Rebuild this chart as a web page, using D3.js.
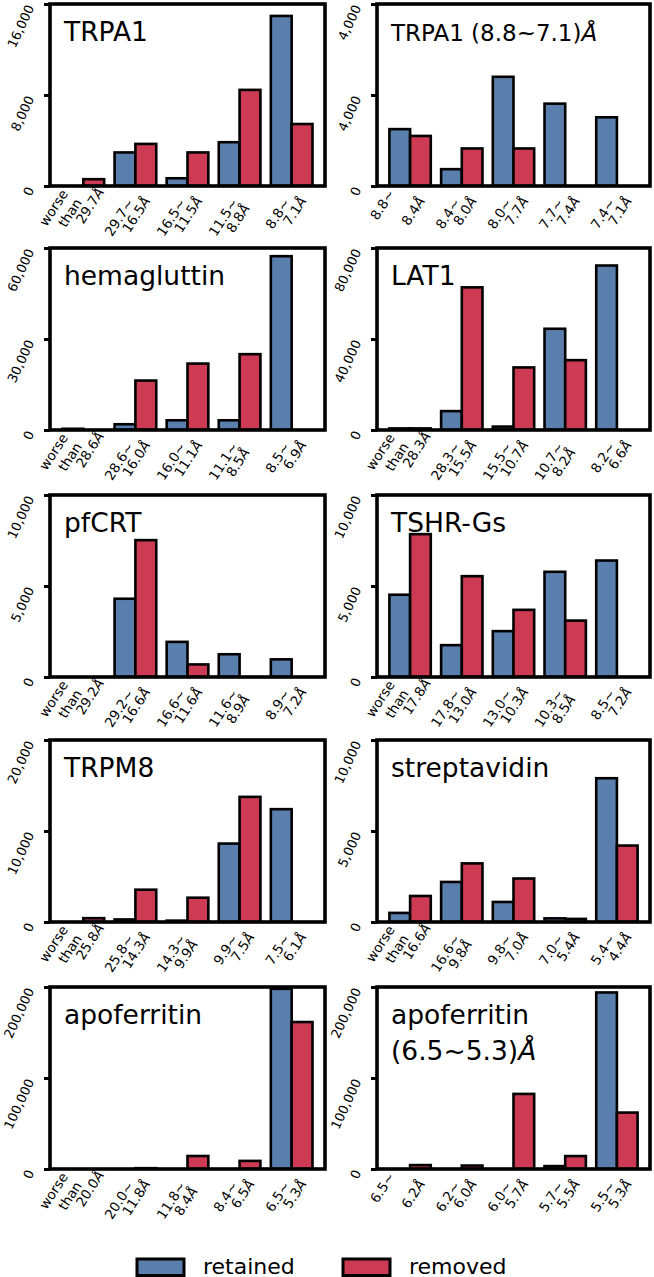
<!DOCTYPE html>
<html><head><meta charset="utf-8">
<script src="https://cdn.jsdelivr.net/npm/d3@7"></script>
<style>html,body{margin:0;padding:0;background:#fff;}svg{display:block;font-family:"DejaVu Sans",sans-serif;}</style>
</head><body>
<svg id="chart" width="654" height="1277"></svg>
<script>
// ---------- data ----------
const seriesNames = ["retained", "removed"];

const trpa1Categories = [["worse","than","29.7Å"],["29.7~","16.5Å"],["16.5~","11.5Å"],["11.5~","8.8Å"],["8.8~","7.1Å"]];
const trpa1Retained = [0, 2950, 680, 3850, 14950];
const trpa1Removed  = [600, 3700, 2950, 8450, 5450];
const trpa1Ticks = [0, 8000, 16000];
const trpa1TickLabels = ["0", "8,000", "16,000"];

const trpa1SubCategories = [["8.8~","","8.4Å"],["8.4~","8.0Å"],["8.0~","7.7Å"],["7.7~","7.4Å"],["7.4~","7.1Å"]];
const trpa1SubRetained = [2500, 740, 4800, 3620, 3020];
const trpa1SubRemoved  = [2200, 1650, 1650, 0, 0];
const trpa1SubTicks = [0, 4000, 8000];
const trpa1SubTickLabels = ["0", "4,000", "4,000"];

const hemaCategories = [["worse","than","28.6Å"],["28.6~","16.0Å"],["16.0~","11.1Å"],["11.1~","8.5Å"],["8.5~","6.9Å"]];
const hemaRetained = [400, 1900, 3200, 3200, 57300];
const hemaRemoved  = [0, 16300, 21900, 25000, 0];
const hemaTicks = [0, 30000, 60000];
const hemaTickLabels = ["0", "30,000", "60,000"];

const lat1Categories = [["worse","than","28.3Å"],["28.3~","15.5Å"],["15.5~","10.7Å"],["10.7~","8.2Å"],["8.2~","6.6Å"]];
const lat1Retained = [700, 8300, 1500, 44500, 72300];
const lat1Removed  = [700, 62700, 27500, 30700, 0];
const lat1Ticks = [0, 40000, 80000];
const lat1TickLabels = ["0", "40,000", "80,000"];

const pfcrtCategories = [["worse","than","29.2Å"],["29.2~","16.6Å"],["16.6~","11.6Å"],["11.6~","8.9Å"],["8.9~","7.2Å"]];
const pfcrtRetained = [0, 4300, 1930, 1250, 970];
const pfcrtRemoved  = [0, 7520, 690, 0, 0];
const pfcrtTicks = [0, 5000, 10000];
const pfcrtTickLabels = ["0", "5,000", "10,000"];

const tshrCategories = [["worse","than","17.8Å"],["17.8~","13.0Å"],["13.0~","10.3Å"],["10.3~","8.5Å"],["8.5~","7.2Å"]];
const tshrRetained = [4520, 1750, 2520, 5780, 6400];
const tshrRemoved  = [7850, 5540, 3690, 3100, 0];
const tshrTicks = [0, 5000, 10000];
const tshrTickLabels = ["0", "5,000", "10,000"];

const trpm8Categories = [["worse","than","25.8Å"],["25.8~","14.3Å"],["14.3~","9.9Å"],["9.9~","7.5Å"],["7.5~","6.1Å"]];
const trpm8Retained = [0, 280, 150, 8620, 12400];
const trpm8Removed  = [420, 3550, 2670, 13750, 0];
const trpm8Ticks = [0, 10000, 20000];
const trpm8TickLabels = ["0", "10,000", "20,000"];

const streptCategories = [["worse","than","16.6Å"],["16.6~","9.8Å"],["9.8~","7.0Å"],["7.0~","5.4Å"],["5.4~","4.4Å"]];
const streptRetained = [500, 2200, 1100, 200, 7900];
const streptRemoved  = [1430, 3220, 2390, 170, 4200];
const streptTicks = [0, 5000, 10000];
const streptTickLabels = ["0", "5,000", "10,000"];

const apoCategories = [["worse","than","20.0Å"],["20.0~","11.8Å"],["11.8~","8.4Å"],["8.4~","6.5Å"],["6.5~","5.3Å"]];
const apoRetained = [0, 0, 0, 0, 198000];
const apoRemoved  = [0, 900, 14300, 8900, 161500];
const apoTicks = [0, 100000, 200000];
const apoTickLabels = ["0", "100,000", "200,000"];

const apoSubCategories = [["6.5~","","6.2Å"],["6.2~","6.0Å"],["6.0~","5.7Å"],["5.7~","5.5Å"],["5.5~","5.3Å"]];
const apoSubRetained = [0, 0, 0, 3200, 194000];
const apoSubRemoved  = [4300, 3800, 82500, 14200, 62000];
const apoSubTicks = [0, 100000, 200000];
const apoSubTickLabels = ["0", "100,000", "200,000"];

const panelTitles = [["TRPA1"], ["TRPA1 (8.8~7.1)Å"], ["hemagluttin"], ["LAT1"], ["pfCRT"], ["TSHR-Gs"],
                     ["TRPM8"], ["streptavidin"], ["apoferritin"], ["apoferritin", "(6.5~5.3)Å"]];

// ---------- build panels ----------
const panels = [
  {cats: trpa1Categories, ret: trpa1Retained, rem: trpa1Removed, ticks: trpa1Ticks, tl: trpa1TickLabels},
  {cats: trpa1SubCategories, ret: trpa1SubRetained, rem: trpa1SubRemoved, ticks: trpa1SubTicks, tl: trpa1SubTickLabels, small: true},
  {cats: hemaCategories, ret: hemaRetained, rem: hemaRemoved, ticks: hemaTicks, tl: hemaTickLabels},
  {cats: lat1Categories, ret: lat1Retained, rem: lat1Removed, ticks: lat1Ticks, tl: lat1TickLabels},
  {cats: pfcrtCategories, ret: pfcrtRetained, rem: pfcrtRemoved, ticks: pfcrtTicks, tl: pfcrtTickLabels},
  {cats: tshrCategories, ret: tshrRetained, rem: tshrRemoved, ticks: tshrTicks, tl: tshrTickLabels},
  {cats: trpm8Categories, ret: trpm8Retained, rem: trpm8Removed, ticks: trpm8Ticks, tl: trpm8TickLabels},
  {cats: streptCategories, ret: streptRetained, rem: streptRemoved, ticks: streptTicks, tl: streptTickLabels},
  {cats: apoCategories, ret: apoRetained, rem: apoRemoved, ticks: apoTicks, tl: apoTickLabels},
  {cats: apoSubCategories, ret: apoSubRetained, rem: apoSubRemoved, ticks: apoSubTicks, tl: apoSubTickLabels}
];
panels.forEach((p, i) => p.title = panelTitles[i]);

const colors = {retained: "#5b7fad", removed: "#cc3a53"};
const svg = d3.select("#chart");
const colLeft = [50, 377], colRight = [325, 650];
const rowTop = [4, 248, 495, 740, 987];
const panelH = 182;
const xAngle = 57, yAngle = 65;
const xFont = 13.5, yFont = 13;
const lineH = 16.5;              // spacing of plain label lines
const aPerp = 12.8, aAlong = 12.5; // placement of the Å line relative to the previous line's start

function addRich(sel, str) {
  const parts = str.split("Å");
  parts.forEach((part, k) => {
    if (part.length) sel.append("tspan").text(part);
    if (k < parts.length - 1) sel.append("tspan").attr("font-style", "italic").text("Å");
  });
}

panels.forEach((p, i) => {
  const col = i % 2, row = Math.floor(i / 2);
  const x0 = colLeft[col], x1 = colRight[col];
  const top = rowTop[row], bottom = top + panelH;
  const g = svg.append("g");
  const x = d3.scaleLinear().domain([-0.64, 4.64]).range([x0, x1]);
  const y = d3.scaleLinear().domain([0, p.ticks[p.ticks.length - 1]]).range([bottom, top]);
  const clipId = "clip" + i;
  g.append("clipPath").attr("id", clipId).append("rect")
    .attr("x", x0).attr("y", top).attr("width", x1 - x0).attr("height", bottom - top);

  const bars = [];
  p.cats.forEach((c, j) => {
    bars.push({s: "retained", j, v: p.ret[j], off: -0.4});
    bars.push({s: "removed", j, v: p.rem[j], off: 0});
  });
  g.append("g").attr("clip-path", `url(#${clipId})`)
    .selectAll("rect").data(bars.filter(b => b.v > 0)).join("rect")
    .attr("x", b => x(b.j + b.off)).attr("width", b => x(b.j + b.off + 0.4) - x(b.j + b.off))
    .attr("y", b => y(b.v)).attr("height", b => y(0) - y(b.v))
    .attr("fill", b => colors[b.s]).attr("stroke", "#000").attr("stroke-width", 2.6);

  g.append("rect").attr("x", x0).attr("y", top).attr("width", x1 - x0).attr("height", bottom - top)
    .attr("fill", "none").attr("stroke", "#000").attr("stroke-width", 3.6);

  const yAxis = d3.axisLeft(y).tickValues(p.ticks).tickSize(6).tickFormat((d, k) => p.tl[k]);
  const ya = g.append("g").attr("transform", `translate(${x0},0)`).call(yAxis);
  ya.select(".domain").remove();
  ya.selectAll(".tick line").attr("stroke", "#000").attr("stroke-width", 3);
  ya.selectAll(".tick text")
    .attr("x", null).attr("dy", null)
    .attr("font-size", yFont).attr("font-family", "DejaVu Sans").attr("fill", "#000")
    .attr("text-anchor", "end")
    .attr("transform", `translate(-15.5,3) rotate(${-yAngle})`);

  // x labels
  p.cats.forEach((lines, j) => {
    const cx = x(j);
    const lg = g.append("g").attr("font-size", xFont).attr("fill", "#000")
      .attr("transform", `translate(${cx - 1},${bottom + 16.5}) rotate(${-xAngle})`);
    const plain = lines.filter(l => !l.includes("Å"));
    const aLine = lines.find(l => l.includes("Å"));
    let prevStart = 0, prevY = 0, lastW = 0;
    plain.forEach((ln, k) => {
      const yy = (k - (plain.length - 1)) * lineH;
      const t = lg.append("text").attr("x", 0).attr("y", yy).attr("text-anchor", "end");
      addRich(t, ln);
      const w = ln.length ? t.node().getComputedTextLength() : lastW;
      lastW = w;
      prevStart = -w; prevY = yy;
    });
    if (aLine) {
      const t = lg.append("text").attr("x", prevStart + aAlong).attr("y", prevY + aPerp).attr("text-anchor", "start");
      addRich(t, aLine);
    }
  });

  const tsize = p.small ? 23 : 26.5;
  p.title.forEach((ln, k) => {
    const t = g.append("text").attr("x", x0 + 14).attr("y", top + 36.5 + k * 36.7)
      .attr("font-size", tsize).attr("fill", "#000");
    addRich(t, ln);
  });
});

const legendItems = [{name: "retained", x: 137}, {name: "removed", x: 343}];
const lgd = svg.append("g");
legendItems.forEach(it => {
  lgd.append("rect").attr("x", it.x).attr("y", 1259).attr("width", 47).attr("height", 16.5)
    .attr("fill", colors[it.name]).attr("stroke", "#000").attr("stroke-width", 3);
  lgd.append("text").attr("x", it.x + 66).attr("y", 1274).attr("font-size", 22).attr("fill", "#000").text(it.name);
});
</script>
</body></html>
